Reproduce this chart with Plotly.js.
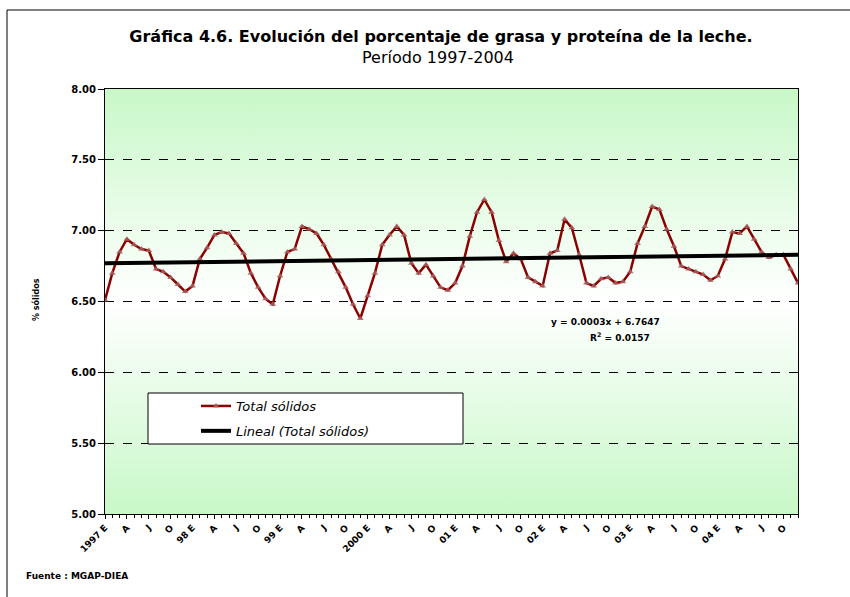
<!DOCTYPE html>
<html>
<head>
<meta charset="utf-8">
<script src="https://cdn.plot.ly/plotly-3.0.1.min.js"></script>
<style>
html,body{margin:0;padding:0;background:#fff;}
#chart{width:850px;height:597px;}
</style>
</head>
<body>
<div id="chart"></div>
<script>
// ---- data (monthly % total solids, Jan 1997 - Dec 2004) ----
const monthIndex = Array.from({length: 96}, (_, i) => i);
const totalSolidos = [
  6.51, 6.70, 6.85, 6.94, 6.90, 6.87, 6.86, 6.73, 6.71, 6.67, 6.62, 6.57,
  6.61, 6.80, 6.88, 6.97, 6.99, 6.98, 6.91, 6.84, 6.70, 6.60, 6.52, 6.48,
  6.68, 6.85, 6.87, 7.03, 7.01, 6.98, 6.90, 6.80, 6.71, 6.60, 6.48, 6.38,
  6.54, 6.70, 6.90, 6.97, 7.03, 6.97, 6.77, 6.70, 6.76, 6.68, 6.60, 6.58,
  6.63, 6.75, 6.96, 7.13, 7.22, 7.13, 6.93, 6.78, 6.84, 6.80, 6.67, 6.64,
  6.61, 6.84, 6.86, 7.08, 7.02, 6.83, 6.63, 6.61, 6.66, 6.67, 6.63, 6.64,
  6.71, 6.91, 7.03, 7.17, 7.15, 7.01, 6.89, 6.75, 6.73, 6.71, 6.69, 6.65,
  6.68, 6.80, 6.99, 6.98, 7.03, 6.94, 6.85, 6.81, 6.83, 6.83, 6.73, 6.63
];
// trend line end points
const trendX = [0, 95];
const trendY = [6.77, 6.83];

const tickVals = [0,3,6,9,12,15,18,21,24,27,30,33,36,39,42,45,48,51,54,57,60,63,66,69,72,75,78,81,84,87,90,93];
const tickText = ["1997 E","A","J","O","98 E","A","J","O","99 E","A","J","O",
                  "2000 E","A","J","O","01 E","A","J","O","02 E","A","J","O",
                  "03 E","A","J","O","04 E","A","J","O"];
const yTickVals = [5.0, 5.5, 6.0, 6.5, 7.0, 7.5, 8.0];

const titleText = "Gráfica 4.6. Evolución del porcentaje de grasa y proteína de la leche.";
const subtitleText = "Período 1997-2004";
const seriesName = "Total sólidos";
const trendName = "Lineal (Total sólidos)";
const equationLine1 = "y = 0.0003x + 6.7647";
const equationLine2 = "R<sup>2</sup> = 0.0157";
const yTitleText = "% sólidos";
const sourceText = "Fuente : MGAP-DIEA";

// ---- layout helpers (pixel -> paper) ----
const W = 850, H = 597;
const M = {l: 105, r: 52, t: 89, b: 83};
const PW = W - M.l - M.r, PH = H - M.t - M.b;
const px = x => (x - M.l) / PW;
const py = y => (H - M.b - y) / PH;

const FONT = "DejaVu Sans, Verdana, sans-serif";

// gradient background (green - white - green)
const gradSvg = '<svg xmlns="http://www.w3.org/2000/svg" width="10" height="100" preserveAspectRatio="none">' +
  '<defs><linearGradient id="g" x1="0" y1="0" x2="0" y2="1">' +
  '<stop offset="0" stop-color="#c8f8c8"/><stop offset="0.5" stop-color="#ffffff"/>' +
  '<stop offset="1" stop-color="#c8f8c8"/></linearGradient></defs>' +
  '<rect width="10" height="100" fill="url(#g)"/></svg>';
const gradUri = 'data:image/svg+xml;base64,' + btoa(gradSvg);

const traces = [
  {
    x: monthIndex, y: totalSolidos, type: 'scatter', mode: 'lines+markers',
    name: seriesName, legendgroup: 'a',
    line: {color: '#8b0000', width: 2.5},
    marker: {symbol: 'triangle-up', size: 6, color: 'rgba(165,95,95,0.85)', line: {width: 0}}
  },
  {
    x: trendX, y: trendY, type: 'scatter', mode: 'lines',
    name: trendName, legendgroup: 'b',
    line: {color: '#000000', width: 4}
  }
];

const layout = {
  width: W, height: H,
  margin: M,
  paper_bgcolor: '#ffffff',
  plot_bgcolor: 'rgba(0,0,0,0)',
  font: {family: FONT, color: '#000', size: 9},
  title: {
    text: '<b>' + titleText + '</b>',
    font: {family: FONT, size: 16, color: '#000'},
    x: 441 / W, xanchor: 'center', y: 1 - 36 / H, yanchor: 'middle'
  },
  showlegend: true,
  legend: {
    x: px(196), y: py(391), xanchor: 'left', yanchor: 'top',
    bgcolor: 'rgba(0,0,0,0)', borderwidth: 0,
    font: {family: FONT, size: 13, style: 'italic', color: '#000'},
    traceorder: 'grouped', tracegroupgap: 5, itemwidth: 30
  },
  xaxis: {
    range: [0, 95], tickmode: 'array', tickvals: tickVals, ticktext: tickText,
    tickangle: -45, ticks: 'outside', ticklen: 4, tickcolor: '#000',
    tickfont: {family: FONT, size: 9, weight: 'bold', color: '#000'},
    minor: {tickmode: 'linear', tick0: 0, dtick: 1, ticks: 'outside', ticklen: 3, tickcolor: '#000'},
    showgrid: false, zeroline: false,
    showline: true, mirror: true, linecolor: '#000', linewidth: 1
  },
  yaxis: {
    range: [5, 8], tickmode: 'array', tickvals: yTickVals, tickformat: '.2f',
    ticks: 'outside', ticklen: 6, tickcolor: '#000',
    tickfont: {family: FONT, size: 10, weight: 'bold', color: '#000'},
    showgrid: true, gridcolor: '#000', griddash: 'dash', gridwidth: 1,
    zeroline: false, showline: true, mirror: true, linecolor: '#000', linewidth: 1
  },
  images: [{
    source: gradUri, xref: 'paper', yref: 'paper', x: 0, y: 1, sizex: 1, sizey: 1,
    xanchor: 'left', yanchor: 'top', sizing: 'stretch', layer: 'below'
  }],
  shapes: [
    // legend box
    {type: 'rect', xref: 'paper', yref: 'paper', x0: px(148), x1: px(463), y0: py(444), y1: py(393),
     fillcolor: '#ffffff', line: {color: '#000', width: 1}, layer: 'above'},
    // outer chart frame (top and left)
    {type: 'line', xref: 'paper', yref: 'paper', x0: px(7), x1: px(850), y0: py(10), y1: py(10),
     line: {color: '#000', width: 1}},
    {type: 'line', xref: 'paper', yref: 'paper', x0: px(7), x1: px(7), y0: py(10), y1: py(597),
     line: {color: '#000', width: 1}}
  ],
  annotations: [
    {text: subtitleText, xref: 'paper', yref: 'paper', x: px(438), y: py(57),
     xanchor: 'center', yanchor: 'middle', showarrow: false,
     font: {family: FONT, size: 16, color: '#000'}},
    {text: '<b>' + equationLine1 + '</b>', xref: 'paper', yref: 'paper', x: px(605), y: py(322),
     xanchor: 'center', yanchor: 'middle', showarrow: false,
     font: {family: FONT, size: 9, color: '#000'}},
    {text: '<b>' + equationLine2 + '</b>', xref: 'paper', yref: 'paper', x: px(620), y: py(337),
     xanchor: 'center', yanchor: 'middle', showarrow: false,
     font: {family: FONT, size: 9, color: '#000'}},
    {text: '<b>' + yTitleText + '</b>', xref: 'paper', yref: 'paper', x: px(36), y: py(300),
     xanchor: 'center', yanchor: 'middle', showarrow: false, textangle: -90,
     font: {family: FONT, size: 8, color: '#000'}},
    {text: '<b>' + sourceText + '</b>', xref: 'paper', yref: 'paper', x: px(24), y: py(576),
     xanchor: 'left', yanchor: 'middle', showarrow: false,
     font: {family: FONT, size: 9, color: '#000'}}
  ]
};

Plotly.newPlot('chart', traces, layout, {displayModeBar: false, staticPlot: true});
</script>
</body>
</html>
